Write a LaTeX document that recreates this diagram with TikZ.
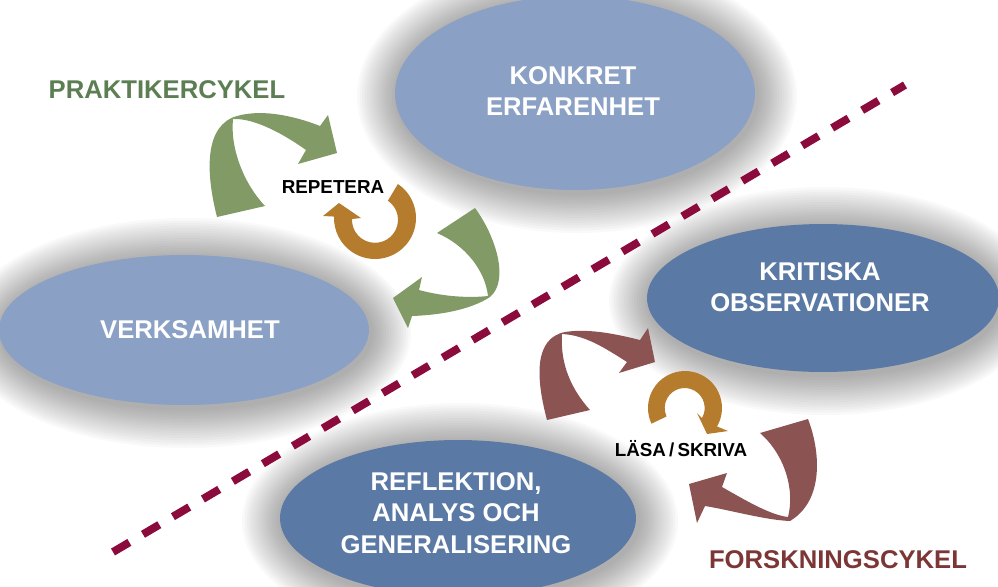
\documentclass[tikz,border=0pt]{standalone}
\usepackage{fontspec}
\setmainfont{Liberation Sans}
\usetikzlibrary{shapes.geometric}

\definecolor{ljusbla}{HTML}{8AA0C4}
\definecolor{morkbla}{HTML}{5A79A5}
\definecolor{pilgron}{HTML}{819A66}
\definecolor{pilrod}{HTML}{8C5353}
\definecolor{pilorange}{HTML}{B57C2D}
\definecolor{linjerod}{HTML}{8C0B3D}
\definecolor{textgron}{HTML}{5C7E53}
\definecolor{textrod}{HTML}{7C3636}

\begin{document}
\begin{tikzpicture}[x=0.02cm,y=-0.02cm]
\tikzstyle{skuggring}=[black,opacity=0.022]
\tikzset{bubbla/.style={ellipse,fill=#1,inner sep=0pt},
bubbla/.default={ljusbla},
bubbeltext/.style={text=white,align=center,font=\fontsize{14.6}{18}\selectfont\bfseries},
cykel/.style={text=#1,font=\fontsize{14.6}{18}\selectfont\bfseries},
etikett/.style={text=black,font=\fontsize{10.7}{13}\selectfont\bfseries},
gransen/.style={linjerod,line width=4.5pt,dash pattern=on 10.8pt off 9pt}}
\path[use as bounding box] (0,0) rectangle (998,586);
\clip (0,0) rectangle (998,586);

% mjuka skuggor
\foreach \cx/\cy/\rx/\ry in {575/93/180/97,184/330/185/75,823/298/176/74,458/518/178/78}
  \foreach \k in {1,...,16}
    \fill[skuggring] (\cx+2,\cy+3) ellipse[x radius=\rx+2.5*\k,y radius=\ry+2.5*\k];

% ellipser
\node[bubbla,minimum width=7.2cm,minimum height=3.88cm] (konkret) at (575,93) {};
\node[bubbla,minimum width=7.4cm,minimum height=3cm] (verksamhet) at (184,330) {};
\node[bubbla=morkbla,minimum width=7.04cm,minimum height=2.96cm] (kritiska) at (823,298) {};
\node[bubbla=morkbla,minimum width=7.12cm,minimum height=3.12cm] (reflektion) at (458,518) {};

\node[bubbeltext] (konkrettext) at (573,91) {KONKRET\\ERFARENHET};
\node[bubbeltext] (verksamhettext) at (190,330) {VERKSAMHET};
\node[bubbeltext] (kritiskatext) at (820,287) {KRITISKA\\OBSERVATIONER};
\node[bubbeltext] (reflektiontext) at (456,513) {REFLEKTION,\\ANALYS OCH\\GENERALISERING};

% streckad gräns
\coordinate (gransA) at (113,552);
\coordinate (gransB) at (905,85);
\draw[gransen] (gransA) -- (gransB);

% praktikercykel
\fill[pilgron] (217,217) .. controls (205,170) and (205,125) .. (237,116)
  .. controls (265,108) and (300,118) .. (320,126) -- (328,115) -- (337,153) -- (298,164) -- (306,150)
  .. controls (285,135) and (255,118) .. (233,119)
  .. controls (230,150) and (245,185) .. (265,206) -- cycle;
\fill[pilgron] (437,233) -- (475,208) .. controls (495,235) and (510,280) .. (490,297)
  .. controls (470,310) and (440,315) .. (412,316) -- (408,328) -- (393,298) -- (422,277) -- (419,290)
  .. controls (445,297) and (470,298) .. (488,296)
  .. controls (485,270) and (465,245) .. (437,233) -- cycle;
\fill[pilorange] (375,218) ++(-56:41) arc[start angle=-56,end angle=182,radius=41]
  -- (323,216) -- (339,203) -- (361,218) -- (352,219) arc[start angle=182,end angle=-56,radius=23] -- cycle;

% forskningscykel
\fill[pilrod] (547,420) .. controls (535,375) and (535,338) .. (565,332)
  .. controls (590,328) and (620,335) .. (640,340) -- (648,328) -- (655,362) -- (619,373) -- (627,362)
  .. controls (605,348) and (585,335) .. (562,334)
  .. controls (560,365) and (572,390) .. (590,410) -- cycle;
\fill[pilrod] (760,433) -- (808,419) .. controls (820,450) and (825,500) .. (790,521)
  .. controls (765,520) and (730,510) .. (705,506) -- (697,523) -- (689,484) -- (727,473) -- (722,487)
  .. controls (745,500) and (770,515) .. (788,517)
  .. controls (795,490) and (785,455) .. (760,433) -- cycle;
\fill[pilorange] (685,408) ++(155:37) arc[start angle=155,end angle=390,radius=37]
  -- (728,431) -- (707,434) -- (697,413) -- (702,418) arc[start angle=30,end angle=-205,radius=20] -- cycle;

\node[cykel=textgron] (praktiker) at (167,90) {PRAKTIKERCYKEL};
\node[cykel=textrod] (forskning) at (838,560) {FORSKNINGSCYKEL};
\node[etikett] (repetera) at (333,187) {REPETERA};
\node[etikett] (lasaskriva) at (681,449) {LÄSA\,/\,SKRIVA};

\end{tikzpicture}
\end{document}
